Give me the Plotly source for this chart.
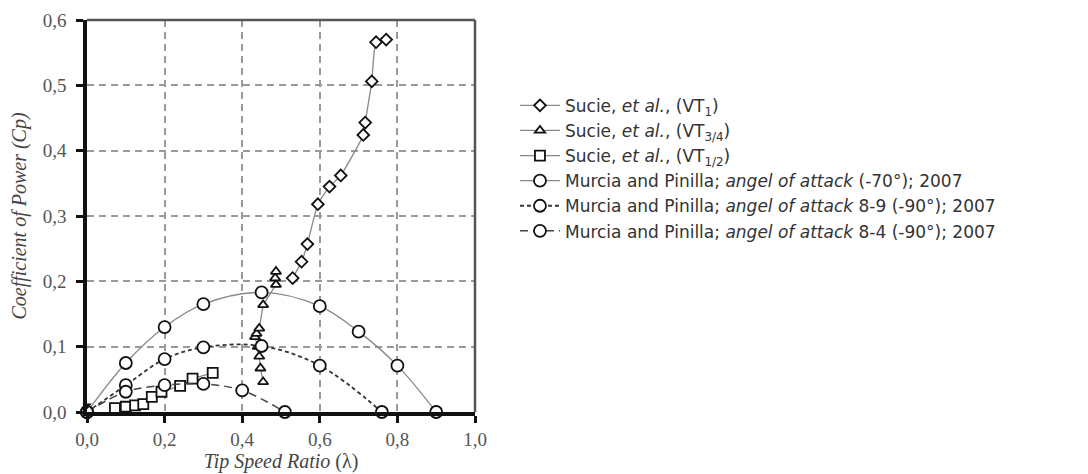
import plotly.graph_objects as go

# ---- data ----
vt1_x = [0.530, 0.553, 0.568, 0.595, 0.625, 0.654, 0.712, 0.717, 0.734, 0.745, 0.771]
vt1_y = [0.205, 0.230, 0.257, 0.318, 0.345, 0.362, 0.424, 0.443, 0.506, 0.566, 0.570]

vt34_x = [0.454, 0.447, 0.444, 0.440, 0.433, 0.437, 0.444, 0.454, 0.487, 0.485, 0.487]
vt34_y = [0.046, 0.067, 0.085, 0.100, 0.115, 0.120, 0.128, 0.164, 0.195, 0.205, 0.215]

vt12_x = [0.072, 0.100, 0.124, 0.145, 0.167, 0.192, 0.240, 0.272, 0.324]
vt12_y = [0.006, 0.008, 0.010, 0.012, 0.023, 0.031, 0.040, 0.051, 0.060]

mp70_x = [0.0, 0.1, 0.2, 0.3, 0.45, 0.6, 0.7, 0.8, 0.9]
mp70_y = [0.0, 0.075, 0.130, 0.165, 0.183, 0.162, 0.123, 0.071, 0.0]

mp89_x = [0.0, 0.1, 0.2, 0.3, 0.45, 0.6, 0.76]
mp89_y = [0.0, 0.041, 0.081, 0.099, 0.101, 0.071, 0.0]

mp84_x = [0.0, 0.1, 0.2, 0.3, 0.4, 0.51]
mp84_y = [0.0, 0.031, 0.041, 0.043, 0.033, 0.0]

origin_x = [0.0]
origin_y = [0.010]

x_ticks = [0.0, 0.2, 0.4, 0.6, 0.8, 1.0]
y_ticks = [0.0, 0.1, 0.2, 0.3, 0.4, 0.5, 0.6]

names = [
    "Sucie, <i>et al.</i>, (VT<sub>1</sub>)",
    "Sucie, <i>et al.</i>, (VT<sub>3/4</sub>)",
    "Sucie, <i>et al.</i>, (VT<sub>1/2</sub>)",
    "Murcia and Pinilla; <i>angel of attack</i> (-70°); 2007",
    "Murcia and Pinilla; <i>angel of attack</i> 8-9 (-90°); 2007",
    "Murcia and Pinilla; <i>angel of attack</i> 8-4 (-90°); 2007",
]

fig = go.Figure()

def mk(sym, size):
    return dict(symbol=sym, size=size, color="white", line=dict(color="#111", width=1.8))

fig.add_trace(go.Scatter(x=vt1_x, y=vt1_y, name=names[0], mode="lines+markers",
                         line=dict(color="#888", width=1.3, shape="spline", smoothing=0.5),
                         marker=mk("diamond", 9), cliponaxis=False))
fig.add_trace(go.Scatter(x=vt34_x, y=vt34_y, name=names[1], mode="lines+markers",
                         line=dict(color="#888", width=1.3),
                         marker=mk("triangle-up", 9), cliponaxis=False))
fig.add_trace(go.Scatter(x=vt12_x, y=vt12_y, name=names[2], mode="lines+markers",
                         line=dict(color="#888", width=1.3),
                         marker=mk("square", 10), cliponaxis=False))
fig.add_trace(go.Scatter(x=mp70_x, y=mp70_y, name=names[3], mode="lines+markers",
                         line=dict(color="#888", width=1.3, shape="spline", smoothing=1.0),
                         marker=mk("circle", 12), cliponaxis=False))
fig.add_trace(go.Scatter(x=mp89_x, y=mp89_y, name=names[4], mode="lines+markers",
                         line=dict(color="#333", width=1.8, dash="4px,3px", shape="spline", smoothing=1.0),
                         marker=mk("circle", 12), cliponaxis=False))
fig.add_trace(go.Scatter(x=mp84_x, y=mp84_y, name=names[5], mode="lines+markers",
                         line=dict(color="#444", width=1.5, dash="8px,5px", shape="spline", smoothing=1.0),
                         marker=mk("circle", 12), cliponaxis=False))
fig.add_trace(go.Scatter(x=origin_x, y=origin_y, mode="markers", showlegend=False,
                         marker=dict(symbol="triangle-down", size=8, color="#111"),
                         cliponaxis=False))

axis_common = dict(
    showgrid=True, gridcolor="#9a9a9a", griddash="7px,5px", gridwidth=1.8,
    zeroline=False, showline=True, linecolor="#111", linewidth=3.5, mirror=False,
    ticks="outside", ticklen=7, tickcolor="#111", tickwidth=2.5,
    tickfont=dict(family="Liberation Serif", size=19, color="#555"),
    tickformat=".1f", automargin=False,
)

fig.update_xaxes(range=[0, 1.0], tickvals=x_ticks, ticklabelstandoff=0, **axis_common,
                 title=dict(text="<i>Tip Speed Ratio</i> (λ)",
                            font=dict(family="Liberation Serif", size=20, color="#444"),
                            standoff=2))
fig.update_yaxes(range=[0, 0.6], tickvals=y_ticks, ticklabelstandoff=6, **axis_common,
                 title=dict(text="<i>Coefficient of Power (Cp)</i>",
                            font=dict(family="Liberation Serif", size=20, color="#444"),
                            standoff=12))

# top and right frame
fig.add_shape(type="line", xref="paper", yref="paper", x0=0, x1=1, y0=1, y1=1,
              line=dict(color="#555", width=2.5))
fig.add_shape(type="line", xref="paper", yref="paper", x0=1, x1=1, y0=0, y1=1,
              line=dict(color="#555", width=2.5))

fig.update_layout(
    width=1088, height=474,
    margin=dict(l=79, r=621, t=12, b=70),
    paper_bgcolor="white", plot_bgcolor="white",
    separators=", ",
    legend=dict(x=1.103, y=0.827, xanchor="left", yanchor="top",
                font=dict(family="DejaVu Sans", size=17, color="#333"),
                bgcolor="rgba(0,0,0,0)", tracegroupgap=0, itemwidth=40),
)

fig.write_html("out.html")
